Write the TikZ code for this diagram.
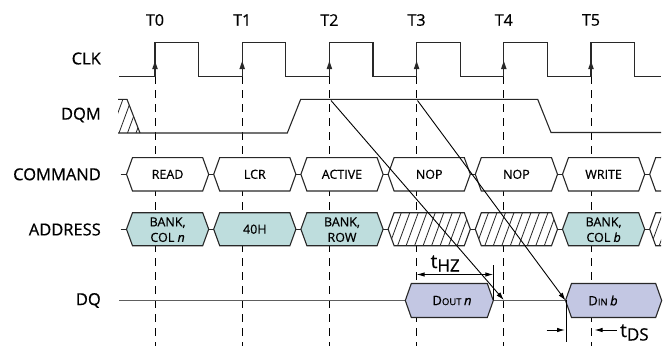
\documentclass[tikz,border=0pt]{standalone}
\usepackage{fontspec}
\setmainfont{Open Sans}[FakeBold=0.6,UprightFeatures={FakeBold=0.6},ItalicFeatures={FakeBold=0.6}]
\usetikzlibrary{arrows.meta}
\definecolor{addrfill}{RGB}{190,221,221}
\definecolor{dqfill}{RGB}{195,199,227}
\definecolor{wavecol}{RGB}{40,40,40}
\newcommand\tdHex[5]{%
  \path[#1] (#2,#4) -- (#2+6,#4-#5) -- (#3-6,#4-#5) -- (#3,#4) -- (#3-6,#4+#5) -- (#2+6,#4+#5) -- cycle;}
\newcommand\tdPart[4]{% style, left tip, yc, half h (open on right at 661)
  \fill[#1] (661,#3-#4) -- (#2+6,#3-#4) -- (#2,#3) -- (#2+6,#3+#4) -- (661,#3+#4) -- cycle;
  \draw[wave] (661,#3-#4) -- (#2+6,#3-#4) -- (#2,#3) -- (#2+6,#3+#4) -- (661,#3+#4);}
\begin{document}
\begin{tikzpicture}[x=1pt,y=-1pt,
  wave/.style={draw=wavecol,line width=1.1pt},
  tline/.style={draw=black,line width=0.9pt,dash pattern=on 8pt off 6pt},
  cmdbox/.style={wave,fill=white},
  addrbox/.style={wave,fill=addrfill},
  dqbox/.style={wave,fill=dqfill},
  hatchpic/.style={path picture={\foreach \hx in {-50,-41.5,...,120}{\draw[line width=0.8pt,wavecol] ([xshift=\hx pt]path picture bounding box.south west) -- ++(14pt,38pt);}}},
  hatchbox/.style={wave,fill=white,hatchpic},
  lbl/.style={font=\fontsize{16.5}{18}\selectfont,anchor=east,inner sep=0pt},
  tlbl/.style={font=\fontsize{16}{18}\selectfont,inner sep=0pt},
  boxtxt/.style={font=\fontsize{12.5}{15.5}\selectfont,inner sep=0pt,align=center},
  darr/.style={draw=black,line width=0.9pt,-{Latex[length=8pt,width=5pt]}},
  dimarr/.style={draw=black,line width=0.9pt,-{Latex[length=8pt,width=4.5pt]}}
]
\useasboundingbox (0,0) rectangle (667,346);
% time labels
\foreach \k/\tx in {0/155,1/242.2,2/329.4,3/416.6,4/503.8,5/591.0}{
  \node[tlbl] (T\k) at (\tx,20) {T\k};
  \draw[tline] (\tx,76.3) -- (\tx,346);
}
% row labels
\node[lbl] (lclk) at (101,58.5) {CLK};
\node[lbl] (ldqm) at (101,115) {DQM};
\node[lbl] (lcmd) at (101,174.3) {COMMAND};
\node[lbl] (laddr) at (101,229.5) {ADDRESS};
\node[lbl] (ldq) at (101,300.5) {DQ};
% CLK
\draw[wave] (119.3,76.3)
  \foreach \tx in {155,242.2,329.4,416.6,503.8,591.0}{ -- (\tx,76.3) -- (\tx,42.7) -- (\tx+43.6,42.7) -- (\tx+43.6,76.3)} -- (661,76.3);
\foreach \tx in {155,242.2,329.4,416.6,503.8,591.0}{
  \fill[wavecol] (\tx,61) -- (\tx-2.8,69) -- (\tx+2.8,69) -- cycle;}
% DQM
\fill[white,hatchpic] (118,99.3) -- (127,99.3) -- (140,133) -- (118,133) -- cycle;
\draw[wave] (118,99.3) -- (127,99.3) -- (140,133);
\draw[wave] (118,133) -- (287.3,133) -- (300.7,99.3) -- (537.7,99.3) -- (551,132.5) -- (661,132.5);
\coordinate (dqmA) at (331,100.5);
\coordinate (dqmB) at (417.5,100.5);
% COMMAND row
\draw[wave] (120.7,174.3) -- (126.5,174.3);
\foreach \c in {211.2,298.4,385.6,472.8,560,647.2}{\draw[wave] (\c-2.5,174.3) -- (\c+2.5,174.3);}
\tdHex{cmdbox}{126.5}{208.7}{174.3}{16.7}
\tdHex{cmdbox}{213.7}{295.9}{174.3}{16.7}
\tdHex{cmdbox}{300.9}{383.1}{174.3}{16.7}
\tdHex{cmdbox}{388.1}{470.3}{174.3}{16.7}
\tdHex{cmdbox}{475.3}{557.5}{174.3}{16.7}
\tdHex{cmdbox}{562.5}{644.7}{174.3}{16.7}
\tdPart{white}{649.7}{174.3}{16.7}
\node[boxtxt] (cread) at (167.6,174.3) {READ};
\node[boxtxt] (clcr) at (254.8,174.3) {LCR};
\node[boxtxt] (cact) at (342,174.3) {ACTIVE};
\node[boxtxt] (cnop1) at (429.2,174.3) {NOP};
\node[boxtxt] (cnop2) at (516.4,174.3) {NOP};
\node[boxtxt] (cwrite) at (603.6,174.3) {WRITE};
% ADDRESS row
\draw[wave] (120.7,229.2) -- (126.5,229.2);
\foreach \c in {211.2,298.4,385.6,472.8,560,647.2}{\draw[wave] (\c-2.5,229.2) -- (\c+2.5,229.2);}
\tdHex{addrbox}{126.5}{208.7}{229.2}{16.5}
\tdHex{addrbox}{213.7}{295.9}{229.2}{16.5}
\tdHex{addrbox}{300.9}{383.1}{229.2}{16.5}
\tdHex{hatchbox}{388.1}{470.3}{229.2}{16.5}
\tdHex{hatchbox}{475.3}{557.5}{229.2}{16.5}
\tdHex{addrbox}{562.5}{644.7}{229.2}{16.5}
\tdPart{white,hatchpic}{649.7}{229.2}{16.5}
\node[boxtxt] (acol) at (167.6,229.7) {BANK,\\COL \textit{n}};
\node[boxtxt] (a40) at (254.8,229.2) {40H};
\node[boxtxt] (arow) at (342,229.7) {BANK,\\ROW};
\node[boxtxt] (acolb) at (603.6,229.7) {BANK,\\COL \textit{b}};
% DQ row
\draw[wave,draw=wavecol!75] (119,300.5) -- (405.3,300.5);
\draw[wave,draw=wavecol!75] (493.3,300.5) -- (565.5,300.5);
\tdHex{dqbox}{405.3}{493.3}{300.5}{17}
\tdHex{dqbox}{565.5}{661.7}{300.5}{17}
\node[inner sep=0pt] (dout) at (452,300.5) {\fontsize{13}{15}\selectfont D\fontsize{9.5}{11}\selectfont OUT \fontsize{13}{15}\selectfont\textit{n}};
\node[inner sep=0pt] (din) at (603,300.5) {\fontsize{13}{15}\selectfont D\fontsize{9.5}{11}\selectfont IN \fontsize{13}{15}\selectfont\textit{b}};
\coordinate (dqA) at (503.8,300);
\coordinate (dqB) at (565.5,300.5);
% diagonal arrows
\draw[darr] (dqmA) -- (dqA);
\draw[darr] (dqmB) -- (dqB);
% tHZ
\coordinate (hzL) at (416.6,274.5);
\coordinate (hzR) at (493.3,274.5);
\draw[line width=0.9pt] (493.3,265) -- (493.3,300);
\draw[dimarr,{Latex[length=8pt,width=4.5pt]}-{Latex[length=8pt,width=4.5pt]}] (hzL) -- (hzR);
\node[anchor=base west,inner sep=0pt] (thz) at (430.5,268) {\fontsize{19}{21}\selectfont t\raisebox{-3.5pt}{\fontsize{17}{19}\selectfont HZ}};
% tDS
\draw[line width=0.9pt] (566,300) -- (566,342);
\coordinate (dsL1) at (546.7,330);
\coordinate (dsL2) at (565,330);
\coordinate (dsR1) at (616.7,330);
\coordinate (dsR2) at (594.5,330);
\draw[dimarr] (dsL1) -- (dsL2);
\draw[dimarr] (dsR1) -- (dsR2);
\node[anchor=base west,inner sep=0pt] (tds) at (620,337) {\fontsize{19}{21}\selectfont t\raisebox{-3.5pt}{\fontsize{17}{19}\selectfont DS}};
\end{tikzpicture}
\end{document}
